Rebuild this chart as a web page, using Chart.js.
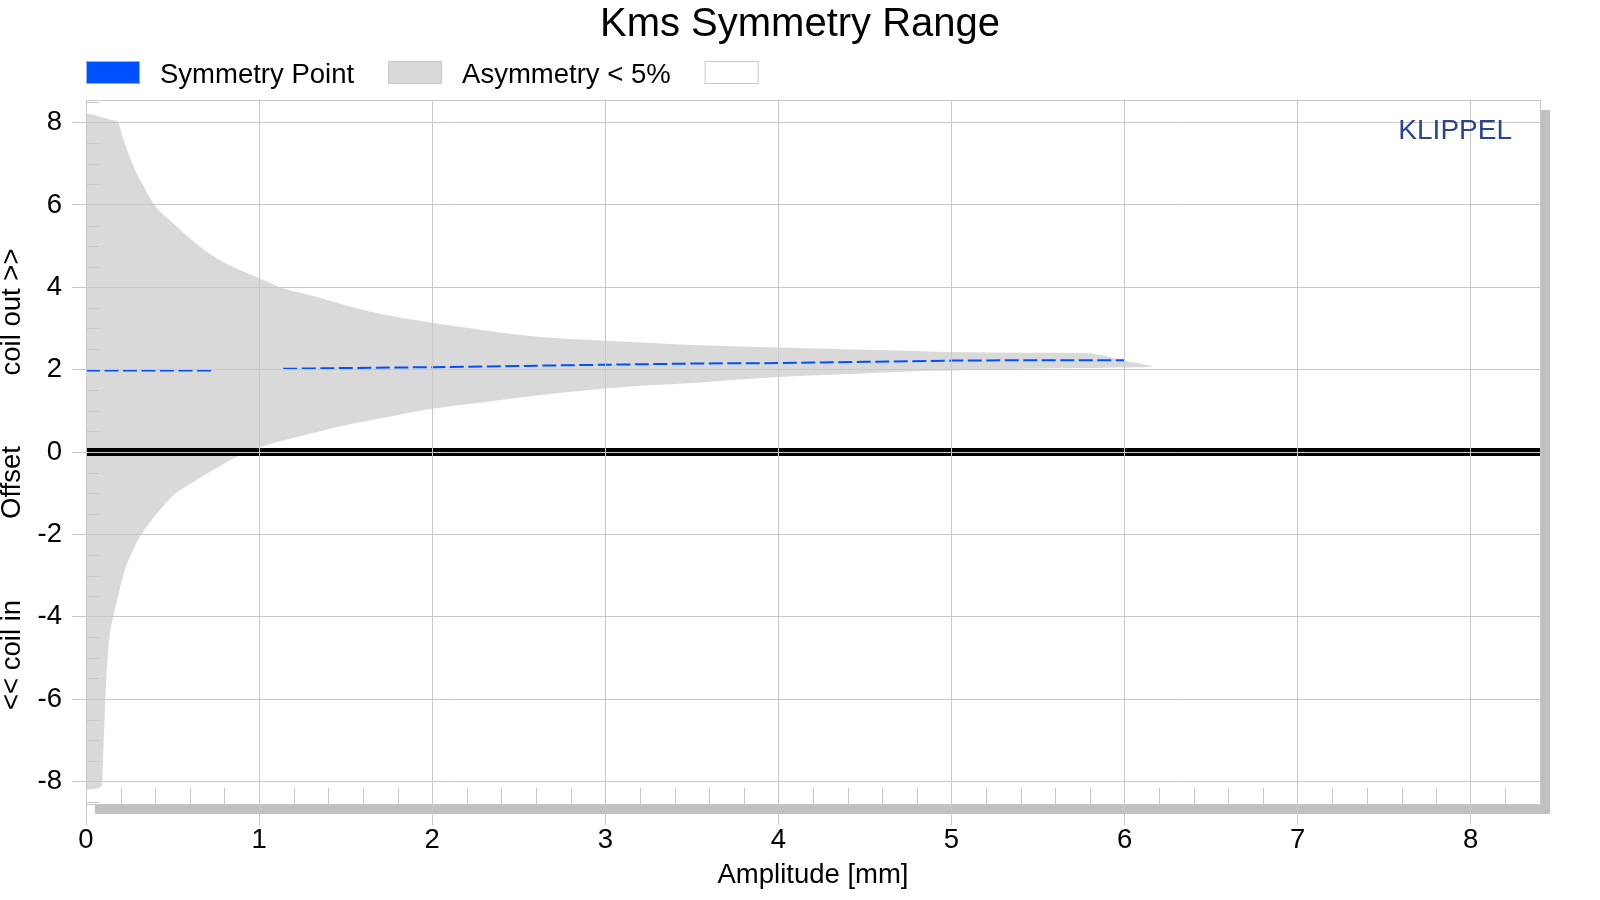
<!DOCTYPE html>
<html>
<head>
<meta charset="utf-8">
<script src="https://cdn.jsdelivr.net/npm/chart.js@4.4.1/dist/chart.umd.min.js"></script>
<style>
  html, body { margin: 0; padding: 0; background: #ffffff; }
  #wrap { position: relative; width: 1600px; height: 900px; }
</style>
</head>
<body>
<div id="wrap"><canvas id="c"></canvas></div>
<script>
// ---------- texts ----------
const chartTitle = 'Kms Symmetry Range';
const xAxisTitle = 'Amplitude [mm]';
const yAxisLabels = ['<< coil in', 'Offset', 'coil out >>'];
const legendLabels = ['Symmetry Point', 'Asymmetry < 5%', ''];
const watermark = 'KLIPPEL';

// ---------- tick values ----------
const xTicks = [0, 1, 2, 3, 4, 5, 6, 7, 8];
const yTicks = [-8, -6, -4, -2, 0, 2, 4, 6, 8];

// ---------- data: asymmetry < 5% band ----------
const bandX = [0, 0.093, 0.097, 0.112, 0.13, 0.16, 0.18, 0.22, 0.27, 0.32, 0.4, 0.5, 0.62, 0.75, 0.89, 1.0,
  1.14, 1.33, 1.53, 1.72, 2.0, 2.3, 2.58, 3.0, 3.26, 3.55, 4.0, 4.45, 4.83, 5.0, 5.41, 5.8, 5.85, 5.93,
  6.0, 6.07, 6.12, 6.16];
const bandUpper = [8.23, 8.13, 8.12, 8.11, 8.09, 8.05, 8.03, 7.55, 6.98, 6.55, 5.98, 5.57, 5.12, 4.72, 4.42, 4.22,
  3.98, 3.77, 3.53, 3.34, 3.14, 2.96, 2.81, 2.70, 2.65, 2.59, 2.54, 2.49, 2.45, 2.43, 2.41, 2.40, 2.37, 2.29,
  2.21, 2.16, 2.12, 2.08];
const bandLower = [-8.2, -8.12, -7.65, -6.0, -4.73, -3.95, -3.6, -2.93, -2.4, -2.0, -1.55, -1.07, -0.73, -0.4, -0.08, 0.11,
  0.28, 0.48, 0.68, 0.83, 1.05, 1.21, 1.36, 1.54, 1.62, 1.69, 1.82, 1.90, 1.97, 1.98, 2.02, 2.04, 2.04, 2.05,
  2.05, 2.06, 2.06, 2.07];

// ---------- data: symmetry point ----------
const symX = [0, 0.74, 0.75, 1.14, 1.5, 2.0, 2.5, 3.0, 3.55, 4.0, 4.5, 5.0, 5.5, 6.0];
const symY = [1.98, 1.98, null, 2.02, 2.04, 2.06, 2.09, 2.12, 2.15, 2.16, 2.19, 2.22, 2.23, 2.23];

// ---------- data: zero offset line ----------
const zeroX = [0, 8.4];
const zeroY = [0, 0];

const toXY = (xs, ys) => xs.map((x, i) => ({ x: x, y: ys[i] }));
const FONT = '"Liberation Sans", Arial, Helvetica, sans-serif';
const BLUE = '#0050ff';
const GRAY_FILL = '#d9d9d9';
const GRID = '#c8c8c8';

Chart.defaults.font.family = FONT;
Chart.defaults.font.size = 27.5;
Chart.defaults.color = '#000000';

const decor = {
  id: 'decor',
  beforeDraw(chart) {
    const { ctx, chartArea: a } = chart;
    ctx.save();
    ctx.fillStyle = '#c0c0c0';
    ctx.fillRect(a.right + 1, a.top + 10, 9, a.bottom - a.top);
    ctx.fillRect(a.left + 9, a.bottom + 1, a.right - a.left + 1, 9);
    ctx.restore();
  },
  afterDraw(chart) {
    const { ctx, chartArea: a, scales } = chart;
    const xs = scales.x, ys = scales.y;
    ctx.save();
    // minor ticks
    ctx.strokeStyle = GRID;
    ctx.lineWidth = 1;
    ctx.beginPath();
    for (let i = 1; i * 0.2 <= 8.4 + 1e-9; i++) {
      if (i % 5 === 0) continue;
      const px = Math.round(xs.getPixelForValue(i * 0.2)) + 0.5;
      ctx.moveTo(px, a.bottom - 16);
      ctx.lineTo(px, a.bottom);
    }
    for (let i = -17; i <= 17; i++) {
      if (i % 4 === 0) continue;
      const py = Math.round(ys.getPixelForValue(i * 0.5)) + 0.5;
      if (py < a.top || py > a.bottom) continue;
      ctx.moveTo(a.left, py);
      ctx.lineTo(a.left + 13, py);
    }
    ctx.stroke();
    // frame
    ctx.strokeStyle = GRID;
    ctx.strokeRect(a.left + 0.5, a.top + 0.5, a.right - a.left, a.bottom - a.top);

    // title
    ctx.fillStyle = '#000';
    ctx.font = '40px ' + FONT;
    ctx.textAlign = 'center';
    ctx.textBaseline = 'alphabetic';
    ctx.fillText(chartTitle, chart.width / 2, 36);

    // legend
    const ds = chart.data.datasets;
    const items = [
      { text: legendLabels[0], fill: ds[0].borderColor, stroke: '#8fb0ff' },
      { text: legendLabels[1], fill: ds[2].backgroundColor, stroke: GRID },
      { text: legendLabels[2], fill: '#ffffff', stroke: GRID }
    ];
    ctx.font = '27.5px ' + FONT;
    ctx.textAlign = 'left';
    let lx = a.left;
    items.forEach(it => {
      ctx.fillStyle = it.fill;
      ctx.fillRect(lx, 61, 54, 23);
      ctx.strokeStyle = it.stroke;
      ctx.strokeRect(lx + 0.5, 61.5, 53, 22);
      ctx.fillStyle = '#000';
      ctx.fillText(it.text, lx + 74, 82.5);
      lx = lx + 74 + ctx.measureText(it.text).width + 34;
    });

    // watermark
    ctx.fillStyle = '#2a4590';
    ctx.font = '28px ' + FONT;
    ctx.textAlign = 'right';
    ctx.fillText(watermark, a.right - 28, a.top + 38.5);

    // rotated y-axis labels
    ctx.fillStyle = '#000';
    ctx.font = '27.5px ' + FONT;
    ctx.textAlign = 'center';
    const centers = [655, 482.5, 312];
    yAxisLabels.forEach((t, i) => {
      ctx.save();
      ctx.translate(20, centers[i]);
      ctx.rotate(-Math.PI / 2);
      ctx.fillText(t, 0, 0);
      ctx.restore();
    });
    ctx.restore();
  }
};

new Chart(document.getElementById('c'), {
  type: 'line',
  data: {
    datasets: [
      {
        label: legendLabels[0],
        data: toXY(symX, symY),
        borderColor: BLUE,
        borderWidth: 2,
        borderDash: [14, 4.5],
        pointRadius: 0,
        fill: false,
        spanGaps: false,
        tension: 0,
        order: 0
      },
      {
        label: 'zero',
        data: toXY(zeroX, zeroY),
        borderColor: '#000000',
        borderWidth: 8,
        pointRadius: 0,
        fill: false,
        tension: 0,
        order: 1
      },
      {
        label: legendLabels[1],
        data: toXY(bandX, bandUpper),
        borderColor: 'rgba(0,0,0,0)',
        borderWidth: 0,
        backgroundColor: GRAY_FILL,
        pointRadius: 0,
        fill: '+1',
        cubicInterpolationMode: 'monotone',
        order: 2
      },
      {
        label: 'lower',
        data: toXY(bandX, bandLower),
        borderColor: 'rgba(0,0,0,0)',
        borderWidth: 0,
        pointRadius: 0,
        fill: false,
        cubicInterpolationMode: 'monotone',
        order: 3
      }
    ]
  },
  options: {
    responsive: true,
    maintainAspectRatio: false,
    devicePixelRatio: 1,
    animation: false,
    events: [],
    layout: { padding: { top: 100, right: 60, left: 0, bottom: 0 } },
    plugins: {
      legend: { display: false },
      title: { display: false },
      tooltip: { enabled: false }
    },
    scales: {
      x: {
        type: 'linear',
        min: 0,
        max: 8.4,
        afterBuildTicks(s) { s.ticks = xTicks.map(v => ({ value: v })); },
        afterFit(s) { s.height = 96; },
        grid: { color: GRID, lineWidth: 1, tickLength: 21, drawTicks: true, z: 1 },
        border: { display: false },
        ticks: { padding: -1, maxRotation: 0, autoSkip: false, color: '#000', font: { size: 27.5 } },
        title: { display: true, text: xAxisTitle, color: '#000', font: { size: 27.5 }, padding: { top: 0, bottom: 8 } }
      },
      y: {
        type: 'linear',
        min: -8.55,
        max: 8.55,
        afterBuildTicks(s) { s.ticks = yTicks.map(v => ({ value: v })); },
        afterFit(s) { s.width = 86; },
        grid: { color: GRID, lineWidth: 1, tickLength: 14, drawTicks: true, z: 1 },
        border: { display: false },
        ticks: { padding: 10, autoSkip: false, color: '#000', font: { size: 27.5 } }
      }
    }
  },
  plugins: [decor]
});
</script>
</body>
</html>
